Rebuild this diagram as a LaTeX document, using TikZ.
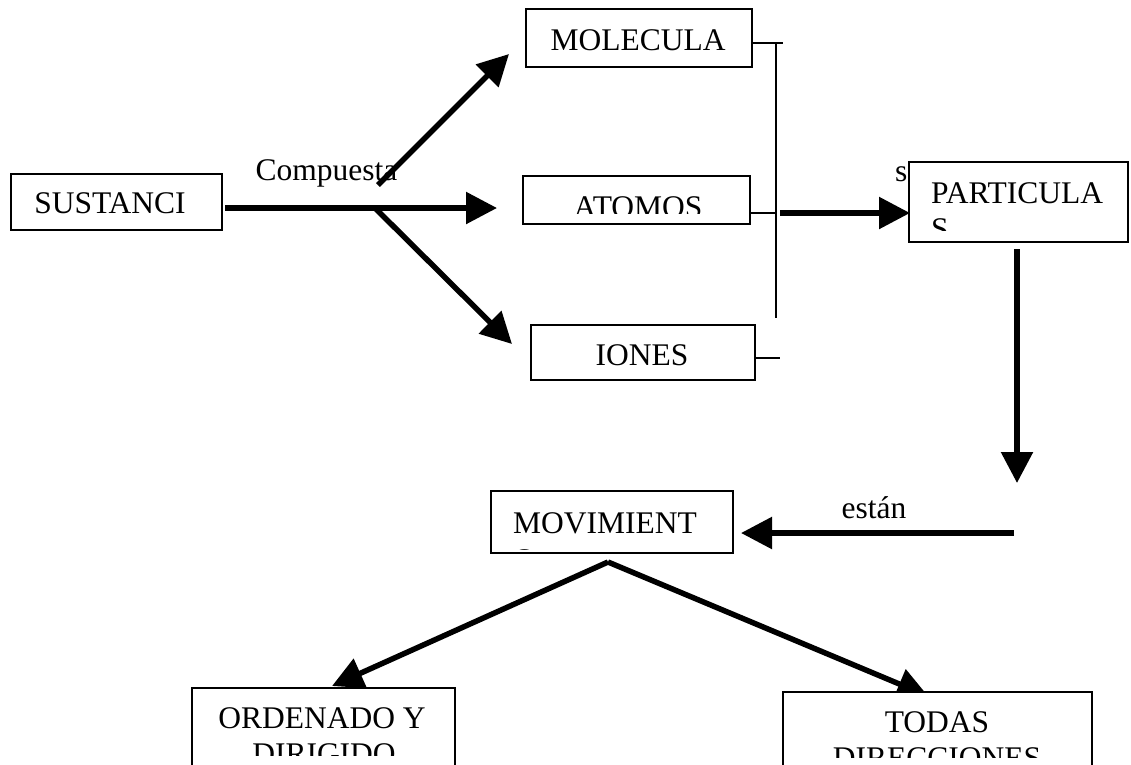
\documentclass[tikz,border=0pt]{standalone}
\usepackage{fontspec}
\setmainfont{Liberation Serif}
\usetikzlibrary{arrows.meta}

\tikzset{
  box/.style={draw, line width=1.5pt, fill=white, rectangle, inner sep=0pt},
  txt/.style={inner sep=0pt, font=\fontsize{31.5}{36}\selectfont, anchor=base},
  txtl/.style={txt, anchor=base west},
  flow/.style={line width=5.5pt, -{Triangle[length=31pt,width=31pt]}},
  tick/.style={line width=1.5pt},
}

\begin{document}
\begin{tikzpicture}[x=1pt,y=-1pt]
\useasboundingbox (0,0) rectangle (1131,764);

% connector end points
\coordinate (sustOut) at (225,208);
\coordinate (fork)    at (376,209);
\coordinate (forkUp)  at (378,185);
\coordinate (tipMol)  at (509,54);
\coordinate (tipAtom) at (497,208);
\coordinate (tipIon)  at (512,344);
\coordinate (busOut)  at (780,213);
\coordinate (tipPart) at (910,213);
\coordinate (partOut) at (1017,249);
\coordinate (tipDown) at (1017,483);
\coordinate (estStart) at (1014,533);
\coordinate (tipMov)  at (741,533);
\coordinate (apex)    at (608,562);
\coordinate (tipOrd)  at (332,686);
\coordinate (tipTod)  at (928,696);

% bracket joining the three kinds of particle
\coordinate (molR)  at (752,43);
\coordinate (molT)  at (783,43);
\coordinate (busTop) at (776,43);
\coordinate (busBot) at (776,318);
\coordinate (atomR) at (750,213);
\coordinate (atomT) at (776,213);
\coordinate (ionR)  at (755,358);
\coordinate (ionT)  at (780,358);

% link labels
\node[txt] (lblComp) at (326.5,180) {Compuesta};
\node[txtl] (lblSon) at (895,181) {son};

% thick arrows
\draw[flow] (sustOut) -- (tipAtom);
\draw[flow] (forkUp) -- (tipMol);
\draw[flow] (fork) -- (tipIon);
\draw[flow] (busOut) -- (tipPart);
\draw[flow] (partOut) -- (tipDown);
\draw[flow] (estStart) -- (tipMov);
\draw[flow] (apex) -- (tipOrd);
\draw[flow] (apex) -- (tipTod);
\node[txt] (lblEst) at (874,518) {están};

% thin bracket
\draw[tick] (molR) -- (molT);
\draw[tick] (busTop) -- (busBot);
\draw[tick] (atomR) -- (atomT);
\draw[tick] (ionR) -- (ionT);

% boxes
\node[box, minimum width=211pt, minimum height=56pt] (sust) at (116.5,202) {};
\node[box, minimum width=226pt, minimum height=58pt] (mol)  at (639,38) {};
\node[box, minimum width=227pt, minimum height=48pt] (atom) at (636.5,200) {};
\node[box, minimum width=224pt, minimum height=55pt] (ion)  at (643,352.5) {};
\node[box, minimum width=219pt, minimum height=80pt] (part) at (1018.5,202) {};
\node[box, minimum width=242pt, minimum height=62pt] (mov)  at (612,522) {};
\node[box, minimum width=263pt, minimum height=102pt] (ord) at (323.5,739) {};
\node[box, minimum width=309pt, minimum height=98pt] (tod) at (937.5,741) {};

% box texts
\node[txt] (sustT) at (110,213) {SUSTANCI};
\node[txt] (molT2) at (638,50) {MOLECULA};
\begin{scope}
  \clip (523,176) rectangle (750,213);
  \node[txt] (atomT2) at (638,217) {ATOMOS};
\end{scope}
\node[txt] (ionT2) at (642,365) {IONES};

\node[txtl] (partT1) at (931,203) {PARTICULA};
\begin{scope}
  \clip (909,162) rectangle (1128,230);
  \node[txtl] (partT2) at (931,239) {S};
\end{scope}

\node[txtl] (movT1) at (513,533) {MOVIMIENT};
\begin{scope}
  \clip (491,491) rectangle (733,549);
  \node[txtl] (movT2) at (513,570) {O};
\end{scope}

\node[txt] (ordT1) at (322,728) {ORDENADO Y};
\begin{scope}
  \clip (192,688) rectangle (455,755);
  \node[txt] (ordT2) at (324,764) {DIRIGIDO};
\end{scope}

\node[txt] (todT1) at (937,732) {TODAS};
\begin{scope}
  \clip (783,692) rectangle (1092,757);
  \node[txt] (todT2) at (937,768) {DIRECCIONES};
\end{scope}
\end{tikzpicture}
\end{document}
